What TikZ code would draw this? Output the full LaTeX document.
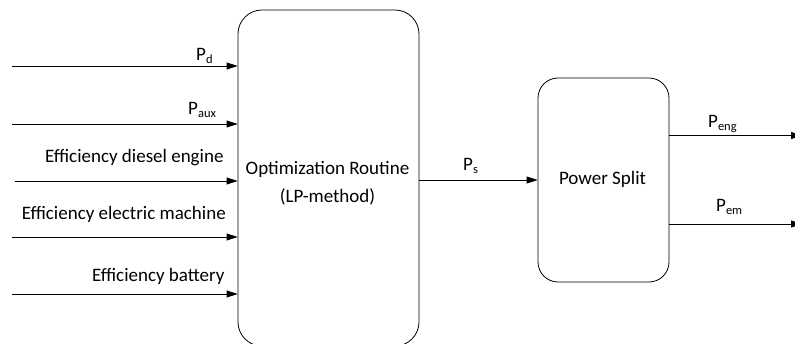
\documentclass[tikz,border=0pt]{standalone}
\usepackage{fontspec}
\setmainfont{Carlito}
\usetikzlibrary{arrows.meta}
\newcommand{\lsub}[1]{\raisebox{-0.28ex}{\fontsize{12.5}{13}\selectfont #1}}
\begin{document}
\begin{tikzpicture}[x=1pt,y=-1pt,
  blockbox/.style={draw, line width=0.8pt, rounded corners=24pt, inner sep=0pt},
  conn/.style={line width=0.8pt, -{Triangle[length=11pt,width=7pt]}},
  lbl/.style={font=\fontsize{19}{22}\selectfont, inner sep=0pt},
]
\useasboundingbox (0,0) rectangle (795,344);
\begin{scope}
\clip (0,0) rectangle (795,344);
\node[blockbox, minimum width=181pt, minimum height=336pt] (opt) at (328.5,178) {};
\node[blockbox, rounded corners=20pt, minimum width=131pt, minimum height=204pt] (ps) at (603.5,180) {};
\node[lbl, anchor=base] (optt) at (327.5,175) {Optimization Routine};
\node[lbl, anchor=base] (optt2) at (327.5,203) {(LP-method)};
\node[lbl, anchor=base] (pst) at (602.5,185) {Power Split};

\coordinate (i1) at (12,66);
\coordinate (i2) at (12,124);
\coordinate (i3) at (15,181);
\coordinate (i4) at (12,237);
\coordinate (i5) at (12,294);
\draw[conn] (i1) -- (i1 -| opt.west);
\draw[conn] (i2) -- (i2 -| opt.west);
\draw[conn] (i3) -- (i3 -| opt.west);
\draw[conn] (i4) -- (i4 -| opt.west);
\draw[conn] (i5) -- (i5 -| opt.west);

\node[lbl, anchor=base west] (l1) at (196,61) {P\lsub{d}};
\node[lbl, anchor=base west] (l2) at (188,115) {P\lsub{aux}};
\node[lbl, anchor=base west] (l3) at (45,163) {Efficiency diesel engine};
\node[lbl, anchor=base west] (l4) at (21.7,220) {Efficiency electric machine};
\node[lbl, anchor=base west] (l5) at (92,282) {Efficiency battery};

\draw[conn] (opt.east |- ps.west) -- (ps.west);
\node[lbl, anchor=base west] (l6) at (463,171) {P\lsub{s}};

\coordinate (o1) at (802,135.5);
\coordinate (o2) at (802,224);
\draw[conn] (ps.east |- o1) -- (o1);
\draw[conn] (ps.east |- o2) -- (o2);
\node[lbl, anchor=base west] (l7) at (708,128) {P\lsub{eng}};
\node[lbl, anchor=base west] (l8) at (716,212) {P\lsub{em}};
\end{scope}
\end{tikzpicture}
\end{document}
